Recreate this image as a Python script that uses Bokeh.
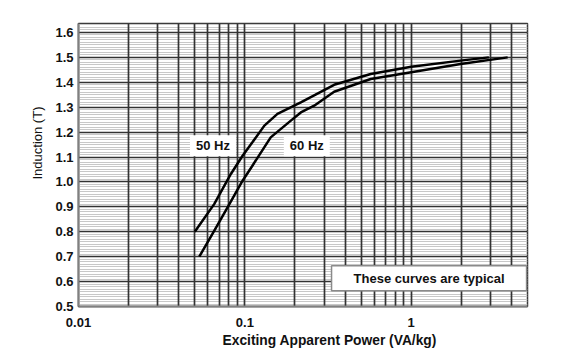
from bokeh.plotting import figure
from bokeh.models import Range1d, FixedTicker, Label, Title, CustomJSTickFormatter, PrintfTickFormatter
from bokeh.embed import file_html
from bokeh.resources import INLINE

# ---- data ----
x_50hz = [0.05, 0.0654, 0.0824, 0.0969, 0.111, 0.131, 0.157, 0.198, 0.217, 0.344, 0.571, 1.0, 1.98, 2.93]
y_50hz = [0.80, 0.911, 1.032, 1.105, 1.159, 1.226, 1.273, 1.306, 1.319, 1.390, 1.433, 1.462, 1.487, 1.50]
x_60hz = [0.0532, 0.0654, 0.0787, 0.0969, 0.111, 0.143, 0.189, 0.217, 0.261, 0.344, 0.571, 1.0, 1.98, 3.8]
y_60hz = [0.70, 0.804, 0.898, 1.005, 1.065, 1.179, 1.246, 1.279, 1.306, 1.362, 1.413, 1.440, 1.473, 1.50]
x_tick_labels = [0.01, 0.1, 1]
y_ticks = [0.5, 0.6, 0.7, 0.8, 0.9, 1.0, 1.1, 1.2, 1.3, 1.4, 1.5, 1.6]

x_grid = [m * d for d in (0.01, 0.1, 1) for m in range(1, 10) if m * d <= 5.0001]
y_minor = [round(0.5 + i * 0.01, 2) for i in range(0, 114)]

FONT = "Liberation Sans"
TXT = "#111111"

p = figure(width=570, height=356, x_axis_type="log",
           x_range=Range1d(0.01, 5), y_range=Range1d(0.5, 1.636),
           output_backend="svg", toolbar_location=None,
           frame_width=449, frame_height=283,
           min_border_left=78, min_border_top=23, min_border_right=43, min_border_bottom=50)
p.background_fill_color = "white"
p.border_fill_color = "white"
p.outline_line_color = "#3a3a3a"
p.outline_line_width = 1.5

# grids (horizontal minor lines drawn underneath the vertical lines)
p.ygrid.level = "image"
p.xgrid.ticker = FixedTicker(ticks=x_grid)
p.xgrid.grid_line_color = "#333333"
p.xgrid.grid_line_width = 1.7
p.ygrid.ticker = FixedTicker(ticks=y_ticks, minor_ticks=y_minor)
p.ygrid.grid_line_color = "#333333"
p.ygrid.grid_line_width = 1.7
p.ygrid.minor_grid_line_color = "#c8c8c8"
p.ygrid.minor_grid_line_width = 1

# axes
p.xaxis.ticker = FixedTicker(ticks=x_tick_labels, minor_ticks=[])
p.xaxis.formatter = CustomJSTickFormatter(code="return tick.toString();")
p.yaxis.ticker = FixedTicker(ticks=y_ticks, minor_ticks=[])
p.yaxis.formatter = PrintfTickFormatter(format="%.1f")
for ax in (p.xaxis, p.yaxis):
    ax.major_tick_line_color = None
    ax.minor_tick_line_color = None
    ax.major_tick_out = 0
    ax.major_tick_in = 0
    ax.axis_line_color = "#808080"
    ax.axis_line_width = 2
    ax.major_label_text_font = FONT
    ax.major_label_text_font_style = "bold"
    ax.major_label_text_font_size = "13px"
    ax.major_label_text_color = TXT
p.xaxis.major_label_standoff = 11
p.yaxis.major_label_standoff = 5

# axis titles (offset like the original)
p.add_layout(Title(text="Exciting Apparent Power (VA/kg)", align="left", offset=144,
                   text_font=FONT, text_font_size="13.8px", text_font_style="bold",
                   text_color=TXT, standoff=3), "below")
p.add_layout(Title(text="Induction (T)", align="left", offset=127,
                   text_font=FONT, text_font_size="13px", text_font_style="normal",
                   text_color=TXT, standoff=16), "left")

# curves
p.line(x_50hz, y_50hz, line_color="black", line_width=2.5)
p.line(x_60hz, y_60hz, line_color="black", line_width=2.5)

# labels
def lab(x, y, text, **kw):
    l = Label(x=x, y=y, text=text, text_font=FONT, text_font_size="13px",
              text_font_style="bold", text_color=TXT,
              text_align="center", text_baseline="middle", **kw)
    p.add_layout(l)
    return l

lab(0.0643, 1.145, "50 Hz", background_fill_color="white", padding=(6, 3))
lab(0.2357, 1.145, "60 Hz", background_fill_color="white", padding=(6, 3))
lab(1.28, 0.613, "These curves are typical", background_fill_color="white",
    border_line_color="#8a8a8a", border_line_width=1.5, padding=(22, 5))

open("out.html", "w").write(file_html(p, INLINE))
